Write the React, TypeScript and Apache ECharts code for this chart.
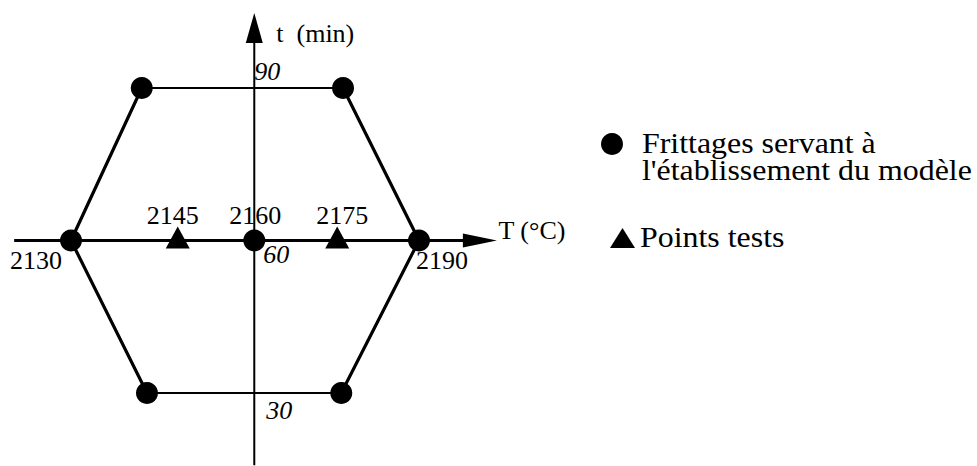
import React, { useEffect, useRef } from 'react';
import * as echarts from 'echarts';

// Tick labels
const tempTicks = ['2130', '2145', '2160', '2175', '2190'];
const timeTicks = ['30', '60', '90'];
// Design points (hexagon, as drawn): temperature (°C) and time (min)
const designT = [2130, 2142.2, 2176.9, 2190, 2176.6, 2143.1];
const designTime = [60, 90, 90, 60, 30, 30];
// Centre point
const centerT = [2161.6];
const centerTime = [60];
// Test points
const testT = [2148.4, 2175.9];
const testTime = [60, 60];
// Axis names
const axisTName = 'T (°C)';
const axisTimeName = 't  (min)';
// Axis extents (start, arrow centre)
const tAxisExtent = [2120.2, 2200.5];
const timeAxisExtent = [15.8, 101.8];
// Legend
const legendDesign = ['Frittages servant à', "l'établissement du modèle"];
const legendTest = 'Points tests';

const FONT = 'Liberation Serif';

export default function App() {
  const ref = useRef<HTMLDivElement>(null);
  useEffect(() => {
    if (!ref.current) return;
    const chart = echarts.init(ref.current, undefined, { renderer: 'svg' });
    const pt = (i: number) => [designT[i], designTime[i]];
    const axisY = centerTime[0];
    const axisX = centerT[0];

    const labelItem = (x: number, y: number, text: string, off: number[], italic = false) => ({
      value: [x, y],
      label: { formatter: text, offset: off, fontStyle: italic ? 'italic' : 'normal' },
    });

    const black = { color: '#000', opacity: 1 };

    const option: any = {
      animation: false,
      grid: { left: 13, top: 11.75, width: 493, height: 452.4 },
      xAxis: { type: 'value', min: 2120, max: 2205, show: false },
      yAxis: { type: 'value', min: 16, max: 105, show: false },
      series: [
        {
          type: 'line', clip: false, symbol: 'none', z: 1, silent: true,
          lineStyle: { color: '#000', width: 3 },
          data: [[tAxisExtent[0], axisY], [tAxisExtent[1], axisY]],
        },
        {
          type: 'line', clip: false, symbol: 'none', z: 1, silent: true,
          lineStyle: { color: '#000', width: 2 },
          data: [[axisX, timeAxisExtent[0]], [axisX, timeAxisExtent[1]]],
        },
        {
          type: 'scatter', clip: false, z: 2, symbol: 'triangle', symbolSize: [14, 34], symbolRotate: -90,
          itemStyle: black, silent: true,
          data: [[tAxisExtent[1], axisY]],
        },
        {
          type: 'scatter', clip: false, z: 2, symbol: 'triangle', symbolSize: [17, 30],
          itemStyle: black, silent: true,
          data: [[axisX, timeAxisExtent[1]]],
        },
        {
          type: 'line', clip: false, symbol: 'none', z: 3, connectNulls: false, silent: true,
          lineStyle: { color: '#000', width: 3.2 },
          data: [pt(0), pt(1), '-', pt(2), pt(3), pt(4), '-', pt(5), pt(0)],
        },
        {
          type: 'line', clip: false, symbol: 'none', z: 3, connectNulls: false, silent: true,
          lineStyle: { color: '#000', width: 2.2 },
          data: [pt(1), pt(2), '-', pt(4), pt(5)],
        },
        {
          type: 'scatter', clip: false, z: 4, symbol: 'circle', symbolSize: 22,
          itemStyle: black, silent: true,
          data: [...designT.map((v, i) => [v, designTime[i]]), [centerT[0], centerTime[0]]],
        },
        {
          type: 'scatter', clip: false, z: 4, symbol: 'triangle', symbolSize: [24, 22], symbolOffset: [0, -3],
          itemStyle: black, silent: true,
          data: testT.map((v, i) => [v, testTime[i]]),
        },
        {
          type: 'scatter', clip: false, z: 5, symbolSize: 0.1, silent: true,
          itemStyle: { color: 'rgba(0,0,0,0)', opacity: 1 },
          label: {
            show: true, position: 'inside', color: '#000', fontFamily: FONT, fontSize: 26, opacity: 1,
          },
          data: [
            labelItem(designT[0], axisY, tempTicks[0], [-35, 20]),
            labelItem(testT[0], axisY, tempTicks[1], [-5, -25]),
            labelItem(centerT[0], axisY, tempTicks[2], [1, -25]),
            labelItem(testT[1], axisY, tempTicks[3], [5, -25]),
            labelItem(designT[3], axisY, tempTicks[4], [23, 20]),
            labelItem(axisX, 30, timeTicks[0], [25, 18], true),
            labelItem(axisX, 60, timeTicks[1], [22, 14], true),
            labelItem(axisX, 90, timeTicks[2], [13, -16], true),
            labelItem(tAxisExtent[1], axisY, axisTName, [52, -10]),
            labelItem(axisX, timeAxisExtent[1], axisTimeName, [61, 5]),
          ],
        },
      ],
      graphic: [
        { type: 'circle', shape: { cx: 612, cy: 144, r: 11 }, style: { fill: '#000' } },
        { type: 'text', x: 642, y: 158, scaleX: 1.1, style: { text: legendDesign[0], fontFamily: FONT, fontSize: 29, fill: '#000', verticalAlign: 'bottom' } },
        { type: 'text', x: 642, y: 185, scaleX: 1.1, style: { text: legendDesign[1], fontFamily: FONT, fontSize: 29, fill: '#000', verticalAlign: 'bottom' } },
        { type: 'polygon', shape: { points: [[610, 248], [622.5, 228], [635, 248]] }, style: { fill: '#000' } },
        { type: 'text', x: 640, y: 252, scaleX: 1.1, style: { text: legendTest, fontFamily: FONT, fontSize: 29, fill: '#000', verticalAlign: 'bottom' } },
      ],
    };
    chart.setOption(option);
    return () => chart.dispose();
  }, []);
  return <div ref={ref} style={{ position: 'fixed', left: 0, top: 0, width: 977, height: 466, background: '#fff' }} />;
}
